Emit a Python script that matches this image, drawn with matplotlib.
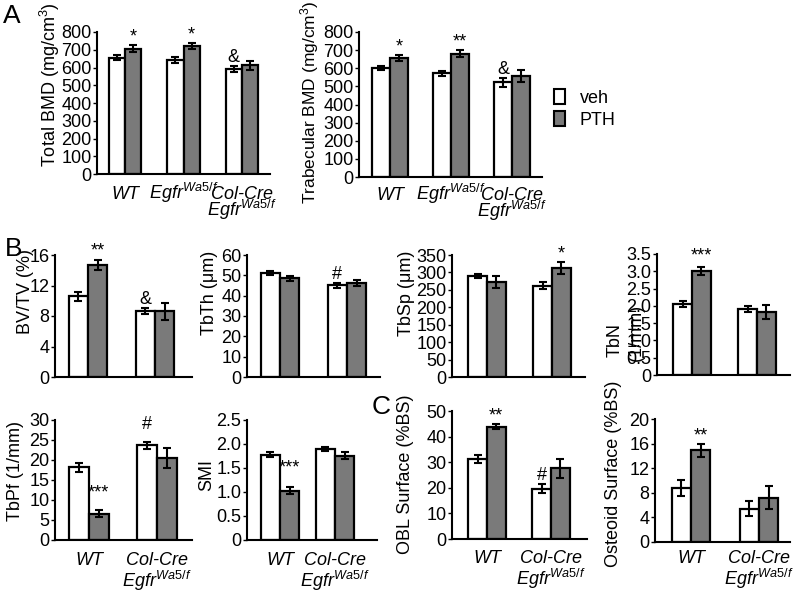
import numpy as np
import matplotlib
matplotlib.use("Agg")
import matplotlib.pyplot as plt
from matplotlib.patches import Patch

plt.rcParams['font.family'] = ['Liberation Sans', 'DejaVu Sans']
plt.rcParams['mathtext.fontset'] = 'custom'
plt.rcParams['mathtext.rm'] = 'Liberation Sans'
plt.rcParams['mathtext.it'] = 'Liberation Sans:italic'
plt.rcParams['mathtext.bf'] = 'Liberation Sans:bold'

# ---------------- data ----------------
groups3 = ["WT", r"$\mathit{Egfr}^{\mathit{Wa5/f}}$", "Col-Cre\n" + r"$\mathit{Egfr}^{\mathit{Wa5/f}}$"]
groups2 = ["WT", "Col-Cre\n" + r"$\mathit{Egfr}^{\mathit{Wa5/f}}$"]
series = ["veh", "PTH"]

total_bmd_veh = [655, 642, 590]
total_bmd_veh_err = [15, 15, 18]
total_bmd_pth = [706, 720, 612]
total_bmd_pth_err = [18, 18, 25]
total_bmd_marks_veh = ["", "", "&"]
total_bmd_marks_pth = ["*", "*", ""]

trab_bmd_veh = [600, 572, 522]
trab_bmd_veh_err = [12, 12, 25]
trab_bmd_pth = [657, 680, 558]
trab_bmd_pth_err = [15, 18, 35]
trab_bmd_marks_veh = ["", "", "&"]
trab_bmd_marks_pth = ["*", "**", ""]

bvtv_veh = [10.6, 8.6]
bvtv_veh_err = [0.6, 0.4]
bvtv_pth = [14.7, 8.6]
bvtv_pth_err = [0.7, 1.1]
bvtv_marks_veh = ["", "&"]
bvtv_marks_pth = ["**", ""]

tbth_veh = [51.0, 45.2]
tbth_veh_err = [1.0, 1.2]
tbth_pth = [48.5, 46.2]
tbth_pth_err = [1.3, 1.5]
tbth_marks_veh = ["", "#"]
tbth_marks_pth = ["", ""]

tbsp_veh = [290, 262]
tbsp_veh_err = [6, 10]
tbsp_pth = [272, 312]
tbsp_pth_err = [18, 17]
tbsp_marks_veh = ["", ""]
tbsp_marks_pth = ["", "*"]

tbn_veh = [2.05, 1.90]
tbn_veh_err = [0.08, 0.09]
tbn_pth = [3.0, 1.82]
tbn_pth_err = [0.12, 0.2]
tbn_marks_veh = ["", ""]
tbn_marks_pth = ["***", ""]

tbpf_veh = [18.2, 23.7]
tbpf_veh_err = [1.1, 0.9]
tbpf_pth = [6.6, 20.6]
tbpf_pth_err = [0.9, 2.5]
tbpf_marks_veh = ["", "#"]
tbpf_marks_pth = ["***", ""]

smi_veh = [1.78, 1.90]
smi_veh_err = [0.06, 0.04]
smi_pth = [1.03, 1.76]
smi_pth_err = [0.07, 0.07]
smi_marks_veh = ["", ""]
smi_marks_pth = ["***", ""]

obl_veh = [31.3, 19.6]
obl_veh_err = [1.7, 1.8]
obl_pth = [43.8, 27.6]
obl_pth_err = [1.0, 3.8]
obl_marks_veh = ["", "#"]
obl_marks_pth = ["**", ""]

ost_veh = [8.8, 5.4]
ost_veh_err = [1.3, 1.2]
ost_pth = [14.9, 7.2]
ost_pth_err = [1.0, 1.9]
ost_marks_veh = ["", ""]
ost_marks_pth = ["**", ""]

# ---------------- style/layout ----------------
W, H = 794, 595
GRAY = '#7a7a7a'
FS = 13

fig = plt.figure(figsize=(W / 100, H / 100), dpi=100)


def make_ax(left, right, top, bottom, ymax, yticks, xoff, spacing, ticklabels=None):
    ax = fig.add_axes([left / W, 1 - bottom / H, (right - left) / W, (bottom - top) / H])
    ax.set_ylim(0, ymax)
    ax.set_xlim(-xoff / spacing, (right - left - xoff) / spacing)
    ax.set_yticks(yticks)
    if ticklabels is not None:
        ax.set_yticklabels(ticklabels)
    ax.set_xticks([])
    for s in ['top', 'right']:
        ax.spines[s].set_visible(False)
    for s in ['left', 'bottom']:
        ax.spines[s].set_linewidth(1.5)
    ax.tick_params(axis='y', direction='out', length=3, width=1, labelsize=FS, pad=1)
    ax.patch.set_alpha(0)
    return ax


def bars(ax, veh, veh_err, pth, pth_err, mveh, mpth, bw, mark_off=0):
    x = np.arange(len(veh))
    ekw = dict(ecolor='black', elinewidth=1.5, capsize=3, capthick=1.5)
    ax.bar(x - bw / 2, veh, bw, yerr=veh_err, color='white', edgecolor='black', linewidth=1.6,
           error_kw=ekw, zorder=2)
    ax.bar(x + bw / 2, pth, bw, yerr=pth_err, color=GRAY, edgecolor='black', linewidth=1.6,
           error_kw=ekw, zorder=2)
    for i in range(len(veh)):
        for xx, v, e, m in [(x[i] - bw / 2, veh[i], veh_err[i], mveh[i]),
                            (x[i] + bw / 2, pth[i], pth_err[i], mpth[i])]:
            if m:
                ax.annotate(m, xy=(xx, v + e), xytext=(0, mark_off), textcoords='offset points',
                            ha='center', va='bottom', fontsize=FS)


def cats(ax, labels, off_px, line_px):
    for i, lab in enumerate(labels):
        for j, line in enumerate(lab.split("\n")):
            d = (off_px + j * line_px) * 0.72
            ax.annotate(line, xy=(i, 0), xycoords=ax.get_xaxis_transform(), xytext=(0, -d),
                        textcoords='offset points', ha='center', va='baseline', fontsize=FS,
                        fontstyle='italic')


def ylab(text, x, y, fs=FS):
    fig.text(x / W, 1 - y / H, text, rotation=90, ha='center', va='center', fontsize=fs)


# ---- Panel A ----
a1 = make_ax(97, 270, 32, 174, 800, range(0, 801, 100), 28, 58.5)
bars(a1, total_bmd_veh, total_bmd_veh_err, total_bmd_pth, total_bmd_pth_err,
     total_bmd_marks_veh, total_bmd_marks_pth, 0.28)
cats(a1, groups3, 25, 17)
ylab("Total BMD (mg/cm$^3$)", 50, 85)

a2 = make_ax(359, 542, 32, 177, 800, range(0, 801, 100), 31, 61)
bars(a2, trab_bmd_veh, trab_bmd_veh_err, trab_bmd_pth, trab_bmd_pth_err,
     trab_bmd_marks_veh, trab_bmd_marks_pth, 0.29)
cats(a2, groups3, 23, 17)
ylab("Trabecular BMD (mg/cm$^3$)", 310, 102, FS - 0.5)

handles = [Patch(facecolor='white', edgecolor='black', linewidth=1.5),
           Patch(facecolor=GRAY, edgecolor='black', linewidth=1.5)]
fig.legend(handles, series, loc='upper left', bbox_to_anchor=(547 / W, 1 - 82 / H),
           frameon=False, fontsize=FS, handlelength=0.6, handleheight=0.9,
           handletextpad=0.8, labelspacing=0.25, borderaxespad=0)

# ---- Panel B ----
b1 = make_ax(55, 192, 255, 377, 16, range(0, 17, 4), 33, 67)
bars(b1, bvtv_veh, bvtv_veh_err, bvtv_pth, bvtv_pth_err, bvtv_marks_veh, bvtv_marks_pth, 0.29)
ylab("BV/TV (%)", 26, 291)

b2 = make_ax(247, 380, 255, 377, 60, range(0, 61, 10), 33, 67)
bars(b2, tbth_veh, tbth_veh_err, tbth_pth, tbth_pth_err, tbth_marks_veh, tbth_marks_pth, 0.29)
ylab("TbTh (\u03bcm)", 210, 293)

b3 = make_ax(452, 585, 255, 377, 350, range(0, 351, 50), 35, 65)
bars(b3, tbsp_veh, tbsp_veh_err, tbsp_pth, tbsp_pth_err, tbsp_marks_veh, tbsp_marks_pth, 0.29)
ylab("TbSp (\u03bcm)", 407, 293)

b4 = make_ax(657, 790, 254, 375, 3.5, np.arange(0, 3.51, 0.5), 35, 65,
             ["0", "0.5", "1.0", "1.5", "2.0", "2.5", "3.0", "3.5"])
bars(b4, tbn_veh, tbn_veh_err, tbn_pth, tbn_pth_err, tbn_marks_veh, tbn_marks_pth, 0.29, 2)
ylab("TbN", 615, 340)
ylab("(1/mm)", 636, 332)

b5 = make_ax(55, 192, 420, 540, 30, range(0, 31, 5), 34, 68)
bars(b5, tbpf_veh, tbpf_veh_err, tbpf_pth, tbpf_pth_err, tbpf_marks_veh, tbpf_marks_pth, 0.29, 6)
cats(b5, groups2, 25, 22)
ylab("TbPf (1/mm)", 16, 471)

b6 = make_ax(247, 377, 420, 540, 2.5, np.arange(0, 2.51, 0.5), 33, 55,
             ["0", "0.5", "1.0", "1.5", "2.0", "2.5"])
bars(b6, smi_veh, smi_veh_err, smi_pth, smi_pth_err, smi_marks_veh, smi_marks_pth, 0.35, 8)
cats(b6, groups2, 25, 22)
ylab("SMI", 207, 475)

# ---- Panel C ----
c1 = make_ax(452, 587, 411, 539, 50, range(0, 51, 10), 35, 64)
bars(c1, obl_veh, obl_veh_err, obl_pth, obl_pth_err, obl_marks_veh, obl_marks_pth, 0.29)
cats(c1, groups2, 24, 22)
ylab("OBL Surface (%BS)", 406, 474)

c2 = make_ax(655, 790, 419, 542, 20, range(0, 21, 4), 36, 68)
bars(c2, ost_veh, ost_veh_err, ost_pth, ost_pth_err, ost_marks_veh, ost_marks_pth, 0.28)
cats(c2, groups2, 21, 22)
ylab("Osteoid Surface (%BS)", 613, 474)

# panel letters
for letter, x, y in [("A", 12, 16), ("B", 14, 249), ("C", 381, 407)]:
    fig.text(x / W, 1 - y / H, letter, ha='center', va='center', fontsize=19)

fig.savefig("out.png", dpi=100)
